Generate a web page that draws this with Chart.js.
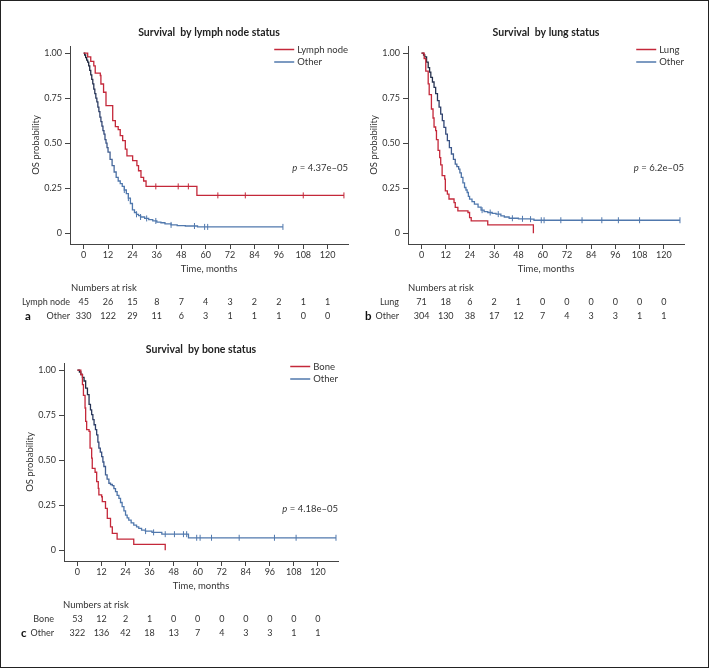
<!DOCTYPE html>
<html>
<head>
    <title>Survival by metastatic site</title>
    <script src="https://cdn.jsdelivr.net/npm/chart.js"></script>
    <style>
        body { margin: 0; background: #fff; }
        #fig { position: relative; width: 709px; height: 668px; box-sizing: border-box; border: 1.5px solid #222; overflow: hidden; }
        canvas { position: absolute; }
    </style>
</head>
<body>
<div id="fig">
    <canvas id="panelA" width="355" height="335" style="left:0;top:0"></canvas>
    <canvas id="panelB" width="354" height="335" style="left:355px;top:0"></canvas>
    <canvas id="panelC" width="355" height="335" style="left:0;top:320px"></canvas>
</div>
<script>
    // ---- data ----
    const timeTicks = [0, 12, 24, 36, 48, 60, 72, 84, 96, 108, 120];

    // a: lymph node
    const lymphT = [0, 2, 3.5, 5, 5.7, 8.2, 8.5, 9.8, 11, 14.3, 15.6, 17, 18, 19.2, 20.5, 21.3, 24.1, 26.2, 27, 28.2, 29.5, 30.7, 55.7, 128];
    const lymphS = [1, 0.98, 0.955, 0.93, 0.889, 0.876, 0.829, 0.783, 0.709, 0.625, 0.592, 0.575, 0.542, 0.514, 0.467, 0.43, 0.403, 0.375, 0.347, 0.31, 0.29, 0.26, 0.21, 0.21];
    const lymphCens = [35.5, 46.5, 51.5, 66, 79.5, 108, 128];
    const otherAT = [0, 0.5, 1, 1.5, 2, 2.5, 3, 3.5, 4, 4.5, 5, 5.5, 6, 6.5, 7, 7.5, 8, 8.5, 9, 9.5, 10, 10.5, 11, 11.5, 12, 13, 14, 15, 16, 17, 18, 19, 20, 21, 22, 23, 24, 25, 26, 27, 28, 30, 32, 34, 36, 38, 40, 43, 46, 50, 56, 98];
    const otherAS = [1, 0.99, 0.975, 0.962, 0.95, 0.93, 0.905, 0.88, 0.855, 0.83, 0.80, 0.775, 0.75, 0.73, 0.70, 0.675, 0.645, 0.62, 0.595, 0.57, 0.55, 0.52, 0.50, 0.475, 0.45, 0.41, 0.375, 0.34, 0.31, 0.29, 0.275, 0.26, 0.24, 0.22, 0.195, 0.165, 0.13, 0.115, 0.105, 0.098, 0.09, 0.082, 0.075, 0.068, 0.062, 0.058, 0.052, 0.046, 0.042, 0.040, 0.035, 0.035];
    const otherACens = [20, 22, 26, 28, 31, 35.5, 43, 54.5, 59.5, 61, 98];
    const riskLymph = [45, 26, 15, 8, 7, 4, 3, 2, 2, 1, 1];
    const riskOtherA = [330, 122, 29, 11, 6, 3, 1, 1, 1, 0, 0];

    // b: lung
    const lungT = [0, 1.3, 2.1, 3.3, 3.8, 4.9, 5.7, 6.2, 7, 7.4, 8.2, 9, 9.5, 10.2, 11.5, 11.8, 12.8, 13.6, 16.1, 16.7, 18, 23, 23.8, 24.6, 32.8, 55.4];
    const lungS = [1, 0.97, 0.90, 0.83, 0.77, 0.69, 0.64, 0.59, 0.57, 0.52, 0.46, 0.42, 0.38, 0.32, 0.30, 0.235, 0.217, 0.19, 0.17, 0.143, 0.124, 0.115, 0.087, 0.069, 0.046, 0];
    const lungCens = [];
    const otherBT = [0, 1, 1.6, 2.5, 3.3, 4, 4.6, 5.4, 6.2, 7, 7.9, 8.7, 9.5, 10.3, 11.1, 12, 12.8, 13.8, 14.8, 15.8, 16.7, 17.5, 18.4, 19, 19.7, 20.5, 21.3, 22, 22.6, 23.2, 23.8, 25, 26.2, 28, 29.5, 31, 32.8, 35, 36.9, 39.3, 41, 43.4, 48, 54, 55.7, 128];
    const otherBS = [1, 0.99, 0.98, 0.95, 0.92, 0.895, 0.866, 0.84, 0.81, 0.775, 0.737, 0.70, 0.662, 0.625, 0.588, 0.55, 0.514, 0.475, 0.44, 0.41, 0.384, 0.37, 0.356, 0.335, 0.31, 0.28, 0.254, 0.24, 0.226, 0.205, 0.189, 0.175, 0.161, 0.145, 0.128, 0.12, 0.115, 0.11, 0.106, 0.096, 0.09, 0.083, 0.08, 0.078, 0.072, 0.072];
    const otherBCens = [30, 34, 38, 45, 50, 54, 59.3, 60.7, 69, 79.5, 89.3, 97.5, 108, 128];
    const riskLung = [71, 18, 6, 2, 1, 0, 0, 0, 0, 0, 0];
    const riskOtherB = [304, 130, 38, 17, 12, 7, 4, 3, 3, 1, 1];

    // c: bone
    const boneT = [0, 1.7, 2.5, 3, 3.8, 4.1, 4.6, 5.8, 6.3, 7.1, 7.4, 8.8, 9.6, 10.4, 10.7, 12.1, 12.4, 14, 14.9, 16.5, 17.4, 19.8, 28.1, 43.8];
    const boneS = [1, 0.976, 0.92, 0.86, 0.79, 0.716, 0.67, 0.66, 0.567, 0.511, 0.455, 0.433, 0.381, 0.344, 0.307, 0.297, 0.27, 0.232, 0.177, 0.13, 0.093, 0.061, 0.032, 0];
    const boneCens = [];
    const otherCT = [0, 1, 1.7, 2.5, 3.3, 4.1, 5, 5.8, 6.5, 7.1, 7.7, 8.3, 9, 9.6, 10.2, 10.7, 11.4, 12.1, 12.7, 13.2, 14, 14.8, 15.7, 16.5, 17.4, 18.2, 19, 19.8, 20.7, 21.5, 22.3, 23.2, 24, 24.8, 25.6, 26.8, 28.1, 29.5, 30.6, 32, 33.9, 37.2, 42.1, 55.4, 129];
    const otherCS = [1, 0.99, 0.976, 0.96, 0.94, 0.90, 0.864, 0.81, 0.78, 0.753, 0.725, 0.697, 0.67, 0.641, 0.60, 0.567, 0.545, 0.52, 0.49, 0.465, 0.418, 0.395, 0.372, 0.365, 0.359, 0.342, 0.325, 0.305, 0.288, 0.265, 0.242, 0.218, 0.195, 0.18, 0.167, 0.152, 0.139, 0.13, 0.121, 0.112, 0.106, 0.099, 0.089, 0.069, 0.069];
    const otherCCens = [34, 38, 43.8, 48.4, 52.9, 54.5, 59.5, 61.2, 66.9, 80.7, 98.3, 109.1, 129];
    const riskBone = [53, 12, 2, 1, 0, 0, 0, 0, 0, 0, 0];
    const riskOtherC = [322, 136, 42, 18, 13, 7, 4, 3, 3, 1, 1];

    const RED = '#c4283a';
    const BLUE = '#5078ad';
    const DARK = '#1c2236';
    const FONT = 'Lato';
    const TXT = '#333';

    // survival value of a KM step function at time t
    function survAt(ts, ss, t) {
        let v = ss[0];
        for (let i = 0; i < ts.length; i++) {
            if (ts[i] <= t) v = ss[i];
        }
        return v;
    }

    function blueLine(context) {
        const chart = context.chart;
        if (!chart.chartArea) return BLUE;
        const y0 = chart.scales.y.getPixelForValue(1);
        const y1 = chart.scales.y.getPixelForValue(0.28);
        const g = chart.ctx.createLinearGradient(0, y0, 0, y1);
        g.addColorStop(0, DARK);
        g.addColorStop(0.6, '#33497a');
        g.addColorStop(1, BLUE);
        return g;
    }

    function kmSets(ts, ss, cens, color, lineColor) {
        return [
            {
                data: ts.map((t, i) => ({ x: t, y: ss[i] })),
                borderColor: lineColor || color,
                borderWidth: 1.3,
                stepped: true,
                pointRadius: 0,
                fill: false
            },
            {
                data: cens.map(t => ({ x: t, y: survAt(ts, ss, t) })),
                showLine: false,
                pointStyle: 'line',
                pointRotation: 90,
                pointRadius: 3,
                pointBorderWidth: 1,
                pointBorderColor: color
            }
        ];
    }

    // titles, legend, p value, axis titles and the numbers-at-risk table
    const kmExtras = {
        id: 'kmExtras',
        afterDraw(chart, args, o) {
            const { ctx, chartArea: ca, scales: { x, y } } = chart;
            ctx.save();
            ctx.fillStyle = '#222';
            ctx.textBaseline = 'middle';

            // title
            ctx.font = 'bold 10.5px ' + FONT;
            ctx.textAlign = 'center';
            ctx.fillText(o.title, (ca.left + ca.right) / 2, ca.top - 13);

            // legend, right aligned to the plot
            ctx.font = '9.5px ' + FONT;
            const w = Math.max(...o.names.map(n => ctx.measureText(n).width));
            const lx = ca.right + 1 - w - 24;
            [RED, BLUE].forEach((c, i) => {
                const ly = ca.top + 3.5 + i * 12.5;
                ctx.strokeStyle = c;
                ctx.lineWidth = 1.5;
                ctx.beginPath();
                ctx.moveTo(lx, ly);
                ctx.lineTo(lx + 20, ly);
                ctx.stroke();
                ctx.fillStyle = TXT;
                ctx.textAlign = 'left';
                ctx.fillText(o.names[i], lx + 23, ly);
            });

            // p value
            const py = y.getPixelForValue(o.pY);
            ctx.font = '9.5px ' + FONT;
            ctx.textAlign = 'right';
            const rest = ' = ' + o.p;
            ctx.fillText(rest, ca.right, py);
            const rw = ctx.measureText(rest).width;
            ctx.font = 'italic 9.5px ' + FONT;
            ctx.fillText('p', ca.right - rw, py);

            // axis titles
            ctx.font = '9.5px ' + FONT;
            ctx.textAlign = 'center';
            ctx.fillText('Time, months', (ca.left + ca.right) / 2, ca.bottom + 25);
            ctx.save();
            ctx.translate(ca.left - 34, (ca.top + ca.bottom) / 2);
            ctx.rotate(-Math.PI / 2);
            ctx.fillText('OS probability', 0, 0);
            ctx.restore();

            // numbers at risk
            ctx.textAlign = 'left';
            ctx.fillText('Numbers at risk', ca.left + o.headDx, ca.bottom + 44);
            ctx.font = '9px ' + FONT;
            o.risk.forEach((row, r) => {
                const ry = ca.bottom + 58.5 + r * 14;
                ctx.textAlign = 'right';
                ctx.fillText(o.names[r], ca.left + o.labelDx, ry);
                ctx.textAlign = 'center';
                row.forEach((n, i) => ctx.fillText(String(n), x.getPixelForValue(timeTicks[i]), ry));
            });

            // panel letter
            ctx.font = 'bold 11.5px ' + FONT;
            ctx.textAlign = 'left';
            ctx.fillStyle = '#111';
            ctx.fillText(o.letter, o.letterX, ca.bottom + 72);
            ctx.restore();
        }
    };

    function makePanel(id, datasets, pad, extras) {
        const axisColor = '#444';
        const tickFont = { family: FONT, size: 9 };
        new Chart(document.getElementById(id), {
            type: 'line',
            data: { datasets: datasets },
            options: {
                responsive: false,
                animation: false,
                events: [],
                layout: { padding: pad },
                plugins: { legend: { display: false }, tooltip: { enabled: false }, kmExtras: extras },
                scales: {
                    x: {
                        type: 'linear',
                        min: -6.7,
                        max: 130,
                        afterBuildTicks: s => { s.ticks = timeTicks.map(v => ({ value: v })); },
                        afterFit: s => { s.height = 30; },
                        grid: { drawOnChartArea: false, drawTicks: true, tickLength: 5, color: axisColor },
                        border: { display: true, color: axisColor, width: 1 },
                        ticks: { font: tickFont, color: TXT, padding: 1, maxRotation: 0, autoSkip: false }
                    },
                    y: {
                        type: 'linear',
                        min: -0.06,
                        max: 1.04,
                        afterBuildTicks: s => { s.ticks = [0, 0.25, 0.5, 0.75, 1].map(v => ({ value: v })); },
                        afterFit: s => { s.width = pad.yw; },
                        grid: { drawOnChartArea: false, drawTicks: true, tickLength: 5, color: axisColor },
                        border: { display: true, color: axisColor, width: 1 },
                        ticks: {
                            font: tickFont, color: TXT, padding: 3,
                            callback: v => (v === 0 ? '0' : v.toFixed(2))
                        }
                    }
                }
            },
            plugins: [kmExtras]
        });
    }

    makePanel('panelA',
        [...kmSets(lymphT, lymphS, lymphCens, RED), ...kmSets(otherAT, otherAS, otherACens, BLUE, blueLine)],
        { left: 0, top: 45, right: 8, bottom: 62, yw: 69 },
        { title: 'Survival  by lymph node status', names: ['Lymph node', 'Other'], risk: [riskLymph, riskOtherA],
          p: '4.37e\u201305', pY: 0.36, letter: 'a', letterX: 24, labelDx: 0, headDx: 1 });

    makePanel('panelB',
        [...kmSets(lungT, lungS, lungCens, RED), ...kmSets(otherBT, otherBS, otherBCens, BLUE, blueLine)],
        { left: 0, top: 45, right: 26, bottom: 62, yw: 52 },
        { title: 'Survival  by lung status', names: ['Lung', 'Other'], risk: [riskLung, riskOtherB],
          p: '6.2e\u201305', pY: 0.36, letter: 'b', letterX: 9, labelDx: -9, headDx: 0 });

    makePanel('panelC',
        [...kmSets(boneT, boneS, boneCens, RED), ...kmSets(otherCT, otherCS, otherCCens, BLUE, blueLine)],
        { left: 0, top: 42, right: 18, bottom: 65, yw: 63 },
        { title: 'Survival  by bone status', names: ['Bone', 'Other'], risk: [riskBone, riskOtherC],
          p: '4.18e\u201305', pY: 0.23, letter: 'c', letterX: 20, labelDx: -10, headDx: -1 });
</script>
</body>
</html>
